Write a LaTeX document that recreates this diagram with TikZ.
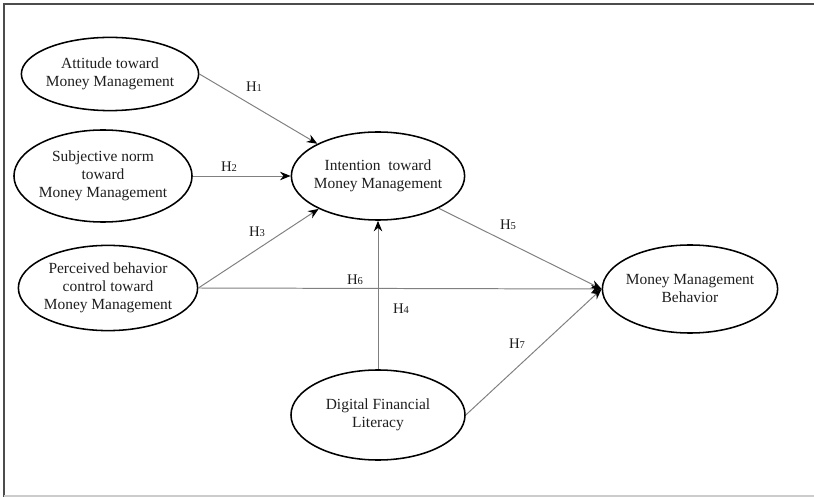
\documentclass[tikz,border=0pt]{standalone}
\usepackage{fontspec}
\setmainfont{Liberation Serif}
\usetikzlibrary{arrows.meta,shapes.geometric}
\definecolor{inkgray}{HTML}{1E1E1E}
\definecolor{linegray}{HTML}{808080}
\tikzset{
    >={Stealth[length=7.5pt,width=6pt,color=black]},
    konstrukt/.style={
           ellipse,
           draw=black, line width=1.1pt,
           inner sep=0pt},
    tekst/.style={
           text=inkgray,
           font=\fontsize{11}{12.8}\selectfont,
           align=center},
    pil/.style={
           ->,
           draw=linegray, line width=0.7pt},
    hyp/.style={
           text=inkgray,
           font=\fontsize{10.5}{12}\selectfont}
}
\newcommand{\hy}[1]{H{\fontsize{7.5}{8}\selectfont #1}}

\begin{document}
\begin{tikzpicture}[x=0.025cm, y=-0.025cm]
        \useasboundingbox (0,0) rectangle (814,497);
        % frame
        \draw[line width=1.6pt, black!70] (4,497) -- (4,4) -- (814,4);
        \draw[line width=1pt, black!20] (4,496) -- (814,496);

        % constructs
        \node[konstrukt, minimum width=4.43cm, minimum height=1.83cm,
              label={[tekst]center:Attitude toward\\Money Management}] (att) at (110,74) {};
        \node[konstrukt, minimum width=4.45cm, minimum height=2.3cm,
              label={[tekst]center:Subjective norm\\toward\\Money Management}] (sub) at (103,176) {};
        \node[konstrukt, minimum width=4.48cm, minimum height=2.13cm,
              label={[tekst]center:Perceived behavior\\control toward\\Money Management}] (pbc) at (108,288) {};
        \node[konstrukt, minimum width=4.33cm, minimum height=2.2cm,
              label={[tekst]center:Intention\ \ toward\\Money Management}] (int) at (378,176) {};
        \node[konstrukt, minimum width=4.38cm, minimum height=2.2cm,
              label={[tekst]center:Money Management\\Behavior}] (mmb) at (690,289) {};
        \node[konstrukt, minimum width=4.35cm, minimum height=2.25cm,
              label={[tekst]center:Digital Financial\\Literacy}] (dfl) at (378,415) {};

        % paths
        \draw[pil] (att.east) -- (int.152);
        \draw[pil] (sub.east) -- (int.west);
        \draw[pil] (pbc.east) -- (int.209);
        \draw[pil] (pbc.east) -- (mmb.west);
        \draw[pil] (int.332) -- (mmb.west);
        \draw[pil] (dfl.north) -- (int.south);
        \draw[pil] (dfl.east) -- (mmb.west);

        % hypotheses
        \node[hyp] (h1) at (254,87) {\hy{1}};
        \node[hyp] (h2) at (229,167) {\hy{2}};
        \node[hyp] (h3) at (257,232) {\hy{3}};
        \node[hyp] (h4) at (401,309) {\hy{4}};
        \node[hyp] (h5) at (508,225) {\hy{5}};
        \node[hyp] (h6) at (355,280) {\hy{6}};
        \node[hyp] (h7) at (517,344) {\hy{7}};
\end{tikzpicture}
\end{document}
